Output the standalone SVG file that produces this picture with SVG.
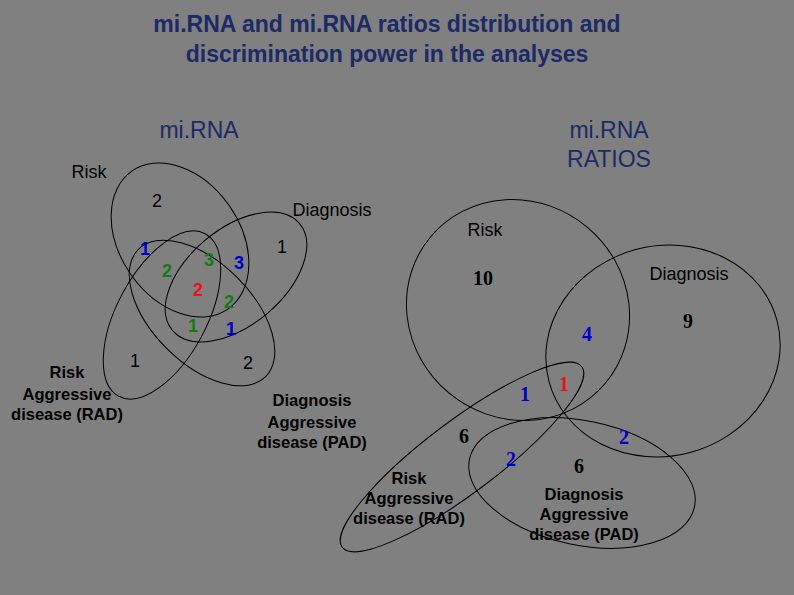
<svg xmlns="http://www.w3.org/2000/svg" width="794" height="595" viewBox="0 0 794 595">
<style>
.e{fill:none;stroke:#000;stroke-width:1}
.t{font-family:"Liberation Sans",Arial,sans-serif;font-size:23px;fill:#1c2a66;text-anchor:middle}
.l{font-family:"Liberation Sans",Arial,sans-serif;font-size:18px;fill:#000;text-anchor:middle}
.b{font-family:"Liberation Sans",Arial,sans-serif;font-size:16.5px;font-weight:bold;fill:#000;text-anchor:middle}
.n{font-family:"Liberation Sans",Arial,sans-serif;font-size:18px;text-anchor:middle}
.r{font-family:"Liberation Serif","Times New Roman",serif;font-size:20px;font-weight:bold;text-anchor:middle}
.k{fill:#000}.bl{fill:#0000cc}.g{fill:#157a15}.rd{fill:#ee1111}
</style>
<rect width="794" height="595" fill="#808080"/>
<text class="t" x="387" y="32" font-weight="bold">mi.RNA and mi.RNA ratios distribution and</text>
<text class="t" x="387" y="62" font-weight="bold">discrimination power in the analyses</text>
<text class="t" x="199" y="138">mi.RNA</text>
<text class="t" x="609" y="138">mi.RNA</text>
<text class="t" x="609" y="167">RATIOS</text>
<g id="connectors">
<ellipse id="l-risk" class="e" cx="180" cy="240" rx="84" ry="60" transform="rotate(55 180 240)"/>
<ellipse id="l-diag" class="e" cx="236" cy="277" rx="83" ry="48" transform="rotate(-40 236 277)"/>
<ellipse id="l-rad" class="e" cx="162" cy="315" rx="92" ry="45" transform="rotate(-62 162 315)"/>
<ellipse id="l-pad" class="e" cx="202" cy="313" rx="90" ry="50" transform="rotate(45 202 313)"/>
<ellipse id="r-risk" class="e" cx="518" cy="310" rx="114" ry="108" transform="rotate(40 518 310)"/>
<ellipse id="r-diag" class="e" cx="663" cy="351" rx="118" ry="105" transform="rotate(-15 663 351)"/>
<ellipse id="r-rad" class="e" cx="462" cy="457" rx="150" ry="36" transform="rotate(-37 462 457)"/>
<ellipse id="r-pad" class="e" cx="582" cy="483" rx="115" ry="62" transform="rotate(12 582 483)"/>
</g>
<g id="left-labels">
<text class="l" x="89" y="178">Risk</text>
<text class="l" x="332" y="216">Diagnosis</text>
<text class="b" x="67" y="378">Risk</text>
<text class="b" x="67" y="400">Aggressive</text>
<text class="b" x="67" y="420">disease (RAD)</text>
<text class="b" x="312" y="406">Diagnosis</text>
<text class="b" x="312" y="428">Aggressive</text>
<text class="b" x="312" y="448">disease (PAD)</text>
<text class="n k" x="157" y="207">2</text>
<text class="n bl" x="145" y="255" font-weight="bold">1</text>
<text class="n g" x="167" y="277" font-weight="bold">2</text>
<text class="n g" x="209" y="266" font-weight="bold">3</text>
<text class="n bl" x="239" y="269" font-weight="bold">3</text>
<text class="n k" x="282" y="253">1</text>
<text class="n rd" x="198" y="296" font-weight="bold">2</text>
<text class="n g" x="229" y="308" font-weight="bold">2</text>
<text class="n g" x="193" y="332" font-weight="bold">1</text>
<text class="n bl" x="231" y="335" font-weight="bold">1</text>
<text class="n k" x="135" y="367">1</text>
<text class="n k" x="248" y="369">2</text>
</g>
<g id="right-labels">
<text class="l" x="485" y="236">Risk</text>
<text class="l" x="689" y="280">Diagnosis</text>
<text class="b" x="409" y="484">Risk</text>
<text class="b" x="409" y="504">Aggressive</text>
<text class="b" x="409" y="524">disease (RAD)</text>
<text class="b" x="584" y="500">Diagnosis</text>
<text class="b" x="584" y="520">Aggressive</text>
<text class="b" x="584" y="540">disease (PAD)</text>
<text class="r k" x="483" y="285">10</text>
<text class="r k" x="688" y="328">9</text>
<text class="r bl" x="587" y="341">4</text>
<text class="r bl" x="525" y="401">1</text>
<text class="r rd" x="564" y="391">1</text>
<text class="r k" x="464" y="443">6</text>
<text class="r bl" x="511" y="466">2</text>
<text class="r bl" x="624" y="444">2</text>
<text class="r k" x="579" y="473">6</text>
</g>
</svg>
